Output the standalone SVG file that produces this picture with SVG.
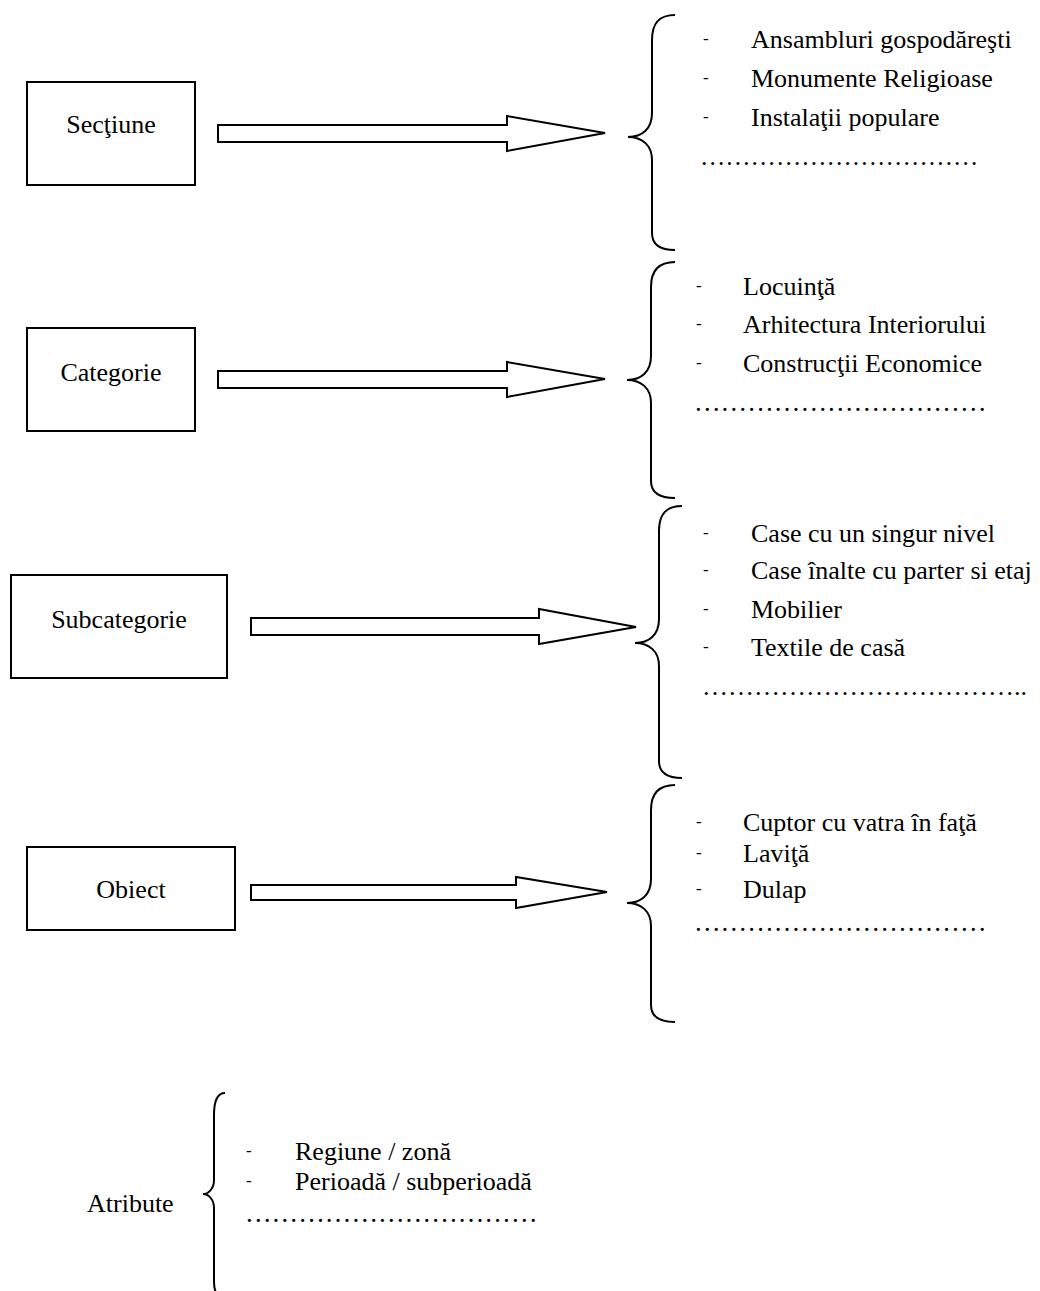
<svg xmlns="http://www.w3.org/2000/svg" width="1040" height="1291" viewBox="0 0 1040 1291">
<style>
text{font-family:"Liberation Serif","Times New Roman",serif;fill:#000}
.lbl{font-size:26px;text-anchor:middle}
.it{font-size:26px}
.dash{font-size:17px}
.dots{font-size:26px}
.box{fill:#fff;stroke:#000;stroke-width:2}
.arr{fill:#fff;stroke:#000;stroke-width:2;stroke-linejoin:miter}
.brace{fill:none;stroke:#000;stroke-width:2}
</style>
<rect width="1040" height="1291" fill="#fff"/>

<g id="connectors">
<polygon class="arr" points="218,125 507,125 507,116 605,133 507,151 507,142 218,142"/>
<polygon class="arr" points="218,371 507,371 507,362 605,379 507,397 507,388 218,388"/>
<polygon class="arr" points="251,618 539,618 539,609 636,627 539,644 539,635 251,635"/>
<polygon class="arr" points="251,885 516,885 516,877 607,892 516,908 516,900 251,900"/>
</g>

<g id="node-sectiune">
<rect class="box" x="27" y="82" width="168" height="103"/>
<text class="lbl" x="111" y="133">Secţiune</text>
</g>
<g id="node-categorie">
<rect class="box" x="27" y="328" width="168" height="103"/>
<text class="lbl" x="111" y="381">Categorie</text>
</g>
<g id="node-subcategorie">
<rect class="box" x="11" y="575" width="216" height="103"/>
<text class="lbl" x="119" y="628">Subcategorie</text>
</g>
<g id="node-obiect">
<rect class="box" x="27" y="847" width="208" height="83"/>
<text class="lbl" x="131" y="898">Obiect</text>
</g>

<g id="list-sectiune">
<path class="brace" d="M675,15 C660,15 652,22 652,40 L652,113 C652,129 642,137 628,137 C642,137 652,145 652,160 L652,233 C652,245 660,250 675,250"/>
<text class="dash" x="703" y="44">-</text>
<text class="it" x="751" y="48">Ansambluri gospodăreşti</text>
<text class="dash" x="703" y="83">-</text>
<text class="it" x="751" y="87">Monumente Religioase</text>
<text class="dash" x="703" y="122">-</text>
<text class="it" x="751" y="126">Instalaţii populare</text>
<text class="dots" x="700" y="165" style="font-size:25.3px">&#8230;&#8230;&#8230;&#8230;&#8230;&#8230;&#8230;&#8230;&#8230;&#8230;&#8230;</text>
</g>

<g id="list-categorie">
<path class="brace" d="M675,262 C660,262 651,269 651,287 L651,356 C651,372 641,380 627,380 C641,380 651,388 651,403 L651,481 C651,493 660,498 675,498"/>
<text class="dash" x="696" y="291">-</text>
<text class="it" x="743" y="295">Locuinţă</text>
<text class="dash" x="696" y="329">-</text>
<text class="it" x="743" y="333">Arhitectura Interiorului</text>
<text class="dash" x="696" y="368">-</text>
<text class="it" x="743" y="372">Construcţii Economice</text>
<text class="dots" x="694" y="411" style="font-size:26.6px">&#8230;&#8230;&#8230;&#8230;&#8230;&#8230;&#8230;&#8230;&#8230;&#8230;&#8230;</text>
</g>

<g id="list-subcategorie">
<path class="brace" d="M682,506 C667,506 659,513 659,531 L659,619 C659,635 649,643 635,643 C649,643 659,651 659,666 L659,761 C659,773 667,778 682,778"/>
<text class="dash" x="703" y="538">-</text>
<text class="it" x="751" y="542">Case cu un singur nivel</text>
<text class="dash" x="703" y="575">-</text>
<text class="it" x="751" y="579">Case înalte cu parter si etaj</text>
<text class="dash" x="703" y="614">-</text>
<text class="it" x="751" y="618">Mobilier</text>
<text class="dash" x="703" y="652">-</text>
<text class="it" x="751" y="656">Textile de casă</text>
<text class="dots" x="702" y="695">&#8230;&#8230;&#8230;&#8230;&#8230;&#8230;&#8230;&#8230;&#8230;&#8230;&#8230;&#8230;..</text>
</g>

<g id="list-obiect">
<path class="brace" d="M675,785 C660,785 651,792 651,810 L651,879 C651,895 641,903 627,903 C641,903 651,911 651,926 L651,1005 C651,1017 660,1022 675,1022"/>
<text class="dash" x="696" y="827">-</text>
<text class="it" x="743" y="831">Cuptor cu vatra în faţă</text>
<text class="dash" x="696" y="858">-</text>
<text class="it" x="743" y="862">Laviţă</text>
<text class="dash" x="696" y="894">-</text>
<text class="it" x="743" y="898">Dulap</text>
<text class="dots" x="694" y="931" style="font-size:26.6px">&#8230;&#8230;&#8230;&#8230;&#8230;&#8230;&#8230;&#8230;&#8230;&#8230;&#8230;</text>
</g>

<g id="node-atribute">
<text class="it" x="87" y="1212">Atribute</text>
<path class="brace" d="M225,1093 C218,1093 214,1100 214,1115 L214,1180 C214,1188 209,1194 203,1194 C209,1194 214,1200 214,1208 L214,1282 C214,1292 218,1298 225,1300"/>
<text class="dash" x="246" y="1156">-</text>
<text class="it" x="295" y="1160">Regiune / zonă</text>
<text class="dash" x="246" y="1186">-</text>
<text class="it" x="295" y="1190">Perioadă / subperioadă</text>
<text class="dots" x="245" y="1222" style="font-size:26.6px">&#8230;&#8230;&#8230;&#8230;&#8230;&#8230;&#8230;&#8230;&#8230;&#8230;&#8230;</text>
</g>
</svg>
